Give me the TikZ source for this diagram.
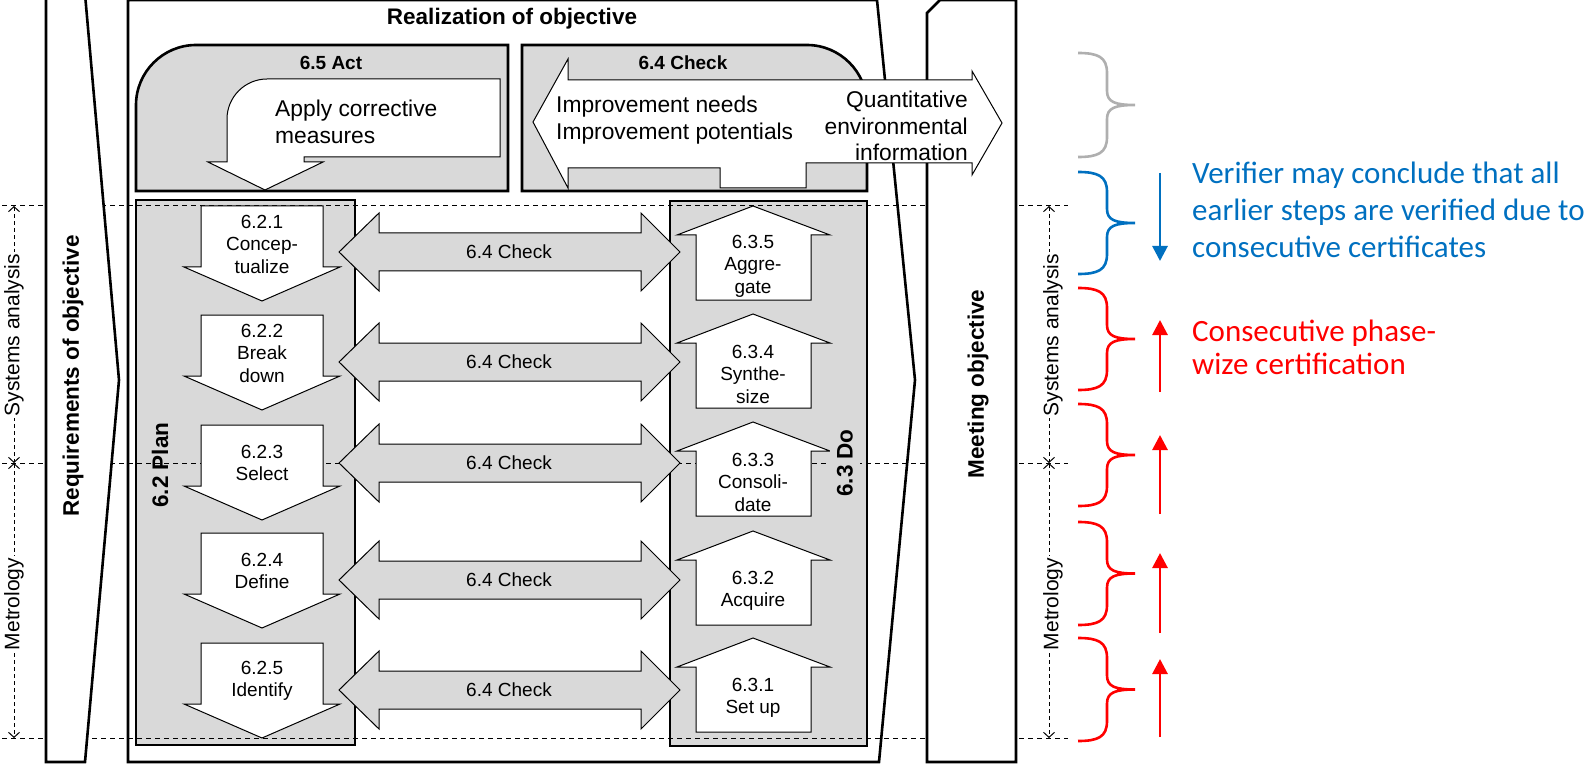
\documentclass[tikz,border=0pt]{standalone}
\usepackage{fontspec}
\setmainfont{Liberation Sans}
\newfontfamily\calib{Carlito}
\usetikzlibrary{arrows.meta}
\definecolor{boxgray}{HTML}{D9D9D9}
\definecolor{vblue}{HTML}{0070C0}
\definecolor{bracegray}{HTML}{AFAFAF}
\newcommand\fsz[2]{\fontsize{#1}{#2}\selectfont}
\newcommand\mybrace[3]{%
  \draw[#3, line width=2.6pt] (1078,#1) .. controls (1098,#1) and (1107,#1+4) .. (1107,#1+20)
    -- (1107,{(#1+#2)/2-14}) .. controls (1107,{(#1+#2)/2-3}) and (1115,{(#1+#2)/2}) .. (1135,{(#1+#2)/2})
    .. controls (1115,{(#1+#2)/2}) and (1107,{(#1+#2)/2+3}) .. (1107,{(#1+#2)/2+14})
    -- (1107,#2-20) .. controls (1107,#2-4) and (1098,#2) .. (1078,#2);}
\begin{document}
\begin{tikzpicture}[x=1pt,y=-1pt,
  thickline/.style={line width=2.6pt, line join=miter},
  thinline/.style={line width=1pt, line join=miter},
  graybox/.style={thickline, fill=boxgray},
  whitearrow/.style={thinline, fill=white},
  grayarrow/.style={thinline, fill=boxgray},
  steplabel/.style={font=\fsz{19}{22.5}, align=center, inner sep=0pt},
  titlelabel/.style={font=\bfseries\fsz{22.5}{26}, inner sep=0pt},
  sublabel/.style={font=\bfseries\fsz{19}{22}, inner sep=0pt},
  biglabel/.style={font=\fsz{22.8}{26.5}, inner sep=0pt},
  hdash/.style={line width=1pt, dash pattern=on 5pt off 4pt},
  dimline/.style={line width=1pt, dash pattern=on 4pt off 3pt,
     {Straight Barb[length=5pt,width=11pt]}-{Straight Barb[length=5pt,width=11pt]}},
  dimtext/.style={font=\fsz{21}{24}, fill=white, rotate=90, inner sep=1.5pt},
  notearrow/.style={line width=2.8pt, -{Triangle[length=15pt,width=15pt]}},
  notetext/.style={font=\calib\fsz{31}{37}, align=left, anchor=west, inner sep=0pt},
]
\useasboundingbox (0,0) rectangle (1595,767);

% Realization frame
\draw[thickline, fill=white] (128,0) -- (877,0) -- (915,380) -- (879,762) -- (128,762) -- cycle;
\node[titlelabel] (real) at (512,19) {Realization of objective};

% Act box
\draw[graybox] (136,191) -- (136,105) .. controls (136,72) and (163,45) .. (196,45) -- (508,45) -- (508,191) -- cycle;
\node[sublabel] (act) at (331,63) {6.5 Act};
% Check box
\draw[graybox] (522,191) -- (522,45) -- (807,45) .. controls (840,45) and (867,72) .. (867,105) -- (867,191) -- cycle;
\node[sublabel] (check) at (683,63) {6.4 Check};

% Plan and Do boxes
\draw[graybox] (136,200) rectangle (355,745);
\draw[graybox] (670,201) rectangle (867,746);

% dashed level lines
\coordinate (l1a) at (2,206);  \coordinate (l1b) at (1068,206);
\coordinate (l2a) at (2,463);  \coordinate (l2b) at (1068,463);
\coordinate (l3a) at (2,738);  \coordinate (l3b) at (1068,738);
\draw[hdash] (l1a) -- (l1b);
\draw[hdash] (l2a) -- (l2b);
\draw[hdash] (l3a) -- (l3b);

\node[titlelabel, rotate=90] (plan) at (160,465) {6.2 Plan};

% Requirements and Meeting shapes
\draw[thickline, fill=white] (46,-6) -- (46,762) -- (85,762) -- (119,380) -- (85,-6);
\node[titlelabel, rotate=90] (req) at (73,376) {Requirements of objective};
\draw[thickline, fill=white] (927,762) -- (927,13) -- (940,0) -- (1016,0) -- (1016,762) -- cycle;
\node[titlelabel, rotate=90] (meet) at (978,384) {Meeting objective};

% Act arrow
\draw[whitearrow] (500,79) -- (500,157) -- (304,157) -- (304,162) -- (323,162) -- (265,190) -- (208,162) -- (227,162) -- (227,119) .. controls (227,97) and (245,79) .. (267,79) -- cycle;
\node[biglabel, align=left, anchor=west] (apply) at (275,122) {Apply corrective\\measures};

% Check arrows
\draw[whitearrow] (533,122) -- (568,59) -- (568,80) -- (972,80) -- (972,71) -- (1002,123) -- (972,175) -- (972,163) -- (806,163) -- (806,188) -- (720,188) -- (720,168) -- (568,168) -- (568,188) -- cycle;
\node[biglabel, align=left, anchor=west] (impr) at (556,120) {Improvement needs\\Improvement potentials};
\node[biglabel, align=right, anchor=east] (quant) at (968,126) {Quantitative\\environmental\\information};

% Plan steps (down arrows)
\foreach \T/\lab/\nm in {206/{6.2.1\\Concep-\\tualize}/p1, 315/{6.2.2\\Break\\down}/p2, 425/{6.2.3\\Select}/p3, 533/{6.2.4\\Define}/p4, 643/{6.2.5\\Identify}/p5}{
  \draw[whitearrow] (201,\T) -- (323,\T) -- (323,\T+61) -- (340,\T+61) -- (262,\T+95) -- (184,\T+61) -- (201,\T+61) -- cycle;
  \node[steplabel] (\nm) at (262,\T+38) {\lab};
}
% Do steps (up arrows)
\foreach \T/\lab/\nm in {206/{6.3.5\\Aggre-\\gate}/d5, 314/{6.3.4\\Synthe-\\size}/d4, 422/{6.3.3\\Consoli-\\date}/d3, 531/{6.3.2\\Acquire}/d2, 638/{6.3.1\\Set up}/d1}{
  \draw[whitearrow] (753,\T) -- (830,\T+29) -- (811,\T+29) -- (811,\T+94) -- (696,\T+94) -- (696,\T+29) -- (677,\T+29) -- cycle;
  \node[steplabel] (\nm) at (753,\T+60) {\lab};
}
\node[titlelabel, rotate=90, fill=boxgray, inner ysep=7pt] (do) at (845,463) {6.3 Do};

% Check double arrows
\foreach \C/\nm in {252/c1, 362/c2, 463/c3, 580/c4, 690/c5}{
  \draw[grayarrow] (339,\C) -- (379,\C-39) -- (379,\C-19) -- (641,\C-19) -- (641,\C-39) -- (680,\C) -- (641,\C+39) -- (641,\C+19) -- (379,\C+19) -- (379,\C+39) -- cycle;
  \node[steplabel] (\nm) at (509,\C) {6.4 Check};
}

% dimension lines
\coordinate (dl1) at (14,206); \coordinate (dl2) at (14,463); \coordinate (dl3) at (14,738);
\coordinate (dr1) at (1049,206); \coordinate (dr2) at (1049,463); \coordinate (dr3) at (1049,738);
\draw[dimline] (dl1) -- (dl2);
\draw[dimline] (dl2) -- (dl3);
\draw[dimline] (dr1) -- (dr2);
\draw[dimline] (dr2) -- (dr3);
\node[dimtext] (sysl) at (14,335) {Systems analysis};
\node[dimtext] (metl) at (14,604) {Metrology};
\node[dimtext] (sysr) at (1053,335) {Systems analysis};
\node[dimtext] (metr) at (1053,604) {Metrology};

% braces
\mybrace{53}{157}{bracegray}
\mybrace{172}{274}{vblue}
\mybrace{288}{390}{red}
\mybrace{404}{506}{red}
\mybrace{522}{625}{red}
\mybrace{638}{741}{red}

% note arrows
\coordinate (b1) at (1160,173); \coordinate (b2) at (1160,261);
\draw[notearrow, vblue] (b1) -- (b2);
\coordinate (r1a) at (1160,392); \coordinate (r1b) at (1160,320);
\coordinate (r2a) at (1160,514); \coordinate (r2b) at (1160,435);
\coordinate (r3a) at (1160,633); \coordinate (r3b) at (1160,553);
\coordinate (r4a) at (1160,737); \coordinate (r4b) at (1160,659);
\draw[notearrow, red] (r1a) -- (r1b);
\draw[notearrow, red] (r2a) -- (r2b);
\draw[notearrow, red] (r3a) -- (r3b);
\draw[notearrow, red] (r4a) -- (r4b);

\node[notetext, text=vblue] (verif) at (1192,210) {Verifier may conclude that all\\earlier steps are verified due to\\consecutive certificates};
\node[notetext, text=red, font=\calib\fsz{31}{33}] (cons) at (1192,347) {Consecutive phase-\\wize certification};
\end{tikzpicture}
\end{document}
